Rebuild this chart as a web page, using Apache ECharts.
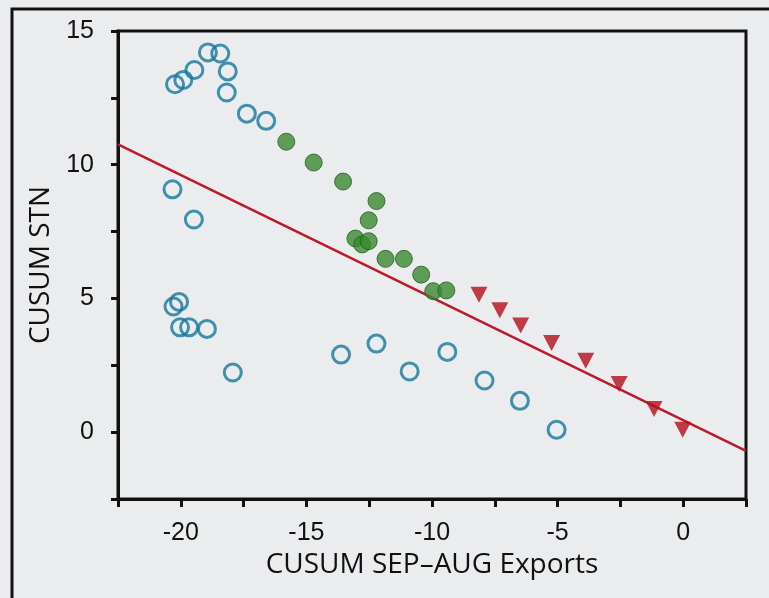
<!DOCTYPE html>
<html><head><meta charset="utf-8">
<script src="https://cdn.jsdelivr.net/npm/echarts@6/dist/echarts.min.js"></script>
<style>html,body{margin:0;padding:0;background:#ebecee;}#c{width:769px;height:598px;}</style>
</head><body><div id="c"></div>
<script>
const openX = [-20.23,-19.90,-19.46,-18.92,-18.43,-18.13,-18.17,-17.37,-16.60,-20.33,-19.48,-20.29,-20.07,-20.03,-19.67,-18.96,-17.93,-13.62,-12.21,-10.89,-9.39,-7.91,-6.50,-5.04];
const openY = [13.01,13.17,13.54,14.20,14.16,13.49,12.70,11.91,11.64,9.08,7.95,4.70,4.87,3.92,3.92,3.86,2.23,2.90,3.31,2.27,3.00,1.93,1.17,0.09];
const greenX = [-15.80,-14.71,-13.54,-12.21,-12.52,-13.05,-12.78,-12.52,-11.85,-11.12,-10.43,-9.95,-9.43];
const greenY = [10.86,10.08,9.37,8.64,7.92,7.24,7.02,7.14,6.48,6.48,5.89,5.27,5.30];
const redX = [-8.13,-7.30,-6.47,-5.24,-3.88,-2.55,-1.16,-0.02];
const redY = [5.14,4.56,3.99,3.33,2.67,1.80,0.87,0.09];
const fitX = [-22.5, 2.5];
const fitY = [10.76, -0.70];
const xTickLabels = [-20,-15,-10,-5,0];
const yTickLabels = [0,5,10,15];
const xTitle = 'CUSUM SEP\u2013AUG Exports';
const yTitle = 'CUSUM STN';

const zip = (a,b)=>a.map((v,i)=>[v,b[i]]);
const chart = echarts.init(document.getElementById('c'));
const tickFont = {fontFamily:'Liberation Sans', fontSize:25, color:'#111'};
chart.setOption({
  backgroundColor:'#ebecee',
  animation:false,
  graphic:[{type:'rect', shape:{x:12,y:9,width:900,height:800}, style:{fill:null, stroke:'#111', lineWidth:3}, z:-1}],
  grid:{left:118, top:31, right:23, bottom:99, show:true, borderColor:'#111', borderWidth:3, backgroundColor:'transparent'},
  xAxis:{type:'value', min:-22.5, max:2.5, interval:2.5,
    name:xTitle, nameLocation:'middle', nameGap:52,
    nameTextStyle:{fontFamily:'Open Sans', fontSize:28, color:'#111'},
    axisLine:{show:true, onZero:false, lineStyle:{color:'#111', width:3}},
    axisTick:{show:true, inside:false, length:8, lineStyle:{color:'#111', width:3}},
    splitLine:{show:false},
    axisLabel:Object.assign({margin:22, formatter:v=>xTickLabels.includes(v)?String(v):''}, tickFont)
  },
  yAxis:{type:'value', min:-2.5, max:15, interval:2.5,
    name:yTitle, nameLocation:'middle', nameGap:58, nameRotate:90,
    nameTextStyle:{fontFamily:'Open Sans', fontSize:28, color:'#111'},
    axisLine:{show:true, onZero:false, lineStyle:{color:'#111', width:3}},
    axisTick:{show:true, inside:false, length:7, lineStyle:{color:'#111', width:3}},
    splitLine:{show:false},
    axisLabel:Object.assign({margin:24, formatter:v=>yTickLabels.includes(v)?String(v):''}, tickFont)
  },
  series:[
    {type:'line', data:zip(fitX,fitY), symbol:'none', lineStyle:{color:'#bd1a2a', width:2.6}, z:1},
    {type:'scatter', data:zip(openX,openY), symbol:'circle', symbolSize:17,
      itemStyle:{color:'transparent', borderColor:'#16789f', borderWidth:3}, z:2},
    {type:'scatter', data:zip(greenX,greenY), symbol:'circle', symbolSize:17,
      itemStyle:{color:'#3a8a2f', borderColor:'#215f1e', borderWidth:1}, z:3},
    {type:'scatter', data:zip(redX,redY), symbol:'triangle', symbolRotate:180, symbolSize:[17,16],
      itemStyle:{color:'#b30f1b'}, z:3}
  ]
});
</script></body></html>
